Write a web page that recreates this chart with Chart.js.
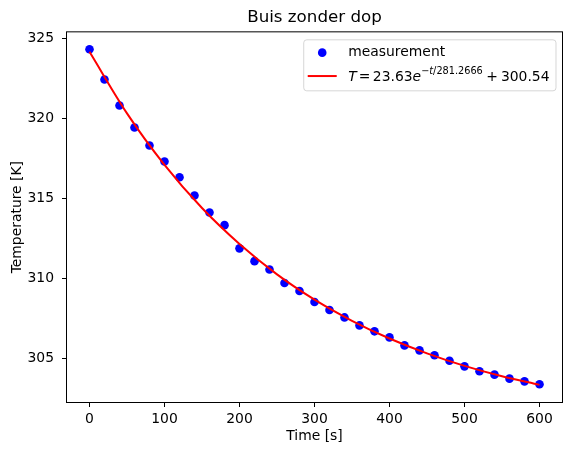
<!DOCTYPE html>
<html>
<head>
<meta charset="utf-8">
<script src="https://cdn.jsdelivr.net/npm/chart.js@4.4.1/dist/chart.umd.min.js"></script>
<style>
  html, body { margin: 0; padding: 0; background: #fff; }
  canvas { display: block; }
</style>
</head>
<body>
<canvas id="coolingChart" width="571" height="455"></canvas>
<script>
// Meetpunten
const times = [0, 20, 40, 60, 80, 100, 120, 140, 160, 180, 200, 220, 240, 260, 280, 300,
               320, 340, 360, 380, 400, 420, 440, 460, 480, 500, 520, 540, 560, 580, 600];
const measured = [324.33, 322.44, 320.81, 319.44, 318.31, 317.31, 316.33, 315.19, 314.12, 313.33,
                  311.88, 311.08, 310.56, 309.71, 309.21, 308.52, 308.02, 307.56, 307.06, 306.69,
                  306.31, 305.81, 305.50, 305.19, 304.85, 304.50, 304.19, 303.98, 303.73, 303.56, 303.38];

const fitTimes = [0, 50, 100, 150, 200, 250, 300, 350, 400, 450, 500, 550, 600];
const fitTemps = [324.17, 320.32, 317.10, 314.40, 312.15, 310.25, 308.67, 307.35, 306.24, 305.31, 304.53, 303.88, 303.34];

// Assen
const xTicks = [0, 100, 200, 300, 400, 500, 600];
const yTicks = [305, 310, 315, 320, 325];
const xLimits = [-30, 630];
const yLimits = [302.27, 325.39];

const FONT = 'DejaVu Sans';
const FS = 13.9;

Chart.defaults.font.family = FONT;
Chart.defaults.font.size = FS;
Chart.defaults.color = '#000';

// Kader rond het plotgebied (alle vier de zijden)
const spinesPlugin = {
    id: 'spines',
    afterDraw(chart) {
        const { ctx, chartArea: a } = chart;
        ctx.save();
        ctx.strokeStyle = '#000';
        ctx.lineWidth = 1;
        ctx.strokeRect(a.left - 0.5, a.top - 0.5, a.right - a.left + 1, a.bottom - a.top + 1);
        ctx.restore();
    }
};

// Legenda in matplotlib-stijl, met formule en superscript
const legendPlugin = {
    id: 'mplLegend',
    afterDraw(chart) {
        const { ctx, chartArea: a } = chart;
        const sup = FS * 0.7;
        const reg = FS + 'px "' + FONT + '"';
        const ita = 'oblique ' + FS + 'px "' + FONT + '"';
        const supReg = sup + 'px "' + FONT + '"';
        const supIta = 'oblique ' + sup + 'px "' + FONT + '"';

        // stukken van de formule
        const parts = [
            { t: 'T', f: ita, gap: 2 },
            { t: '=', f: reg, gap: 2.5 },
            { t: '23.63', f: reg, gap: 0 },
            { t: 'e', f: ita, gap: 0 },
            { t: '\u2212', f: supReg, gap: 0, up: true },
            { t: 't', f: supIta, gap: 0, up: true },
            { t: '/281.2666', f: supReg, gap: 3.5, up: true },
            { t: '+', f: reg, gap: 3 },
            { t: '300.54', f: reg, gap: 0 }
        ];
        ctx.save();
        let formulaW = 0;
        parts.forEach(p => { ctx.font = p.f; p.w = ctx.measureText(p.t).width; formulaW += p.w + p.gap; });

        const boxRight = a.right - 6.5;
        const boxTop = a.top + 7;
        const textX0 = 45;      // afstand linkerrand -> tekst
        const boxW = textX0 + formulaW + 6;
        const boxH = 51;
        const boxLeft = boxRight - boxW;

        ctx.globalAlpha = 0.8;
        ctx.fillStyle = '#fff';
        ctx.strokeStyle = '#cccccc';
        ctx.lineWidth = 1;
        ctx.beginPath();
        ctx.roundRect(boxLeft + 0.5, boxTop + 0.5, boxW, boxH, 3);
        ctx.fill();
        ctx.stroke();
        ctx.globalAlpha = 1;

        const row1 = boxTop + 13.3;
        const row2 = boxTop + 36.7;

        // symbool meting
        ctx.fillStyle = '#0000ff';
        ctx.beginPath();
        ctx.arc(boxLeft + 19, row1, 4.3, 0, Math.PI * 2);
        ctx.fill();
        // symbool fit
        ctx.strokeStyle = '#ff0000';
        ctx.lineWidth = 2;
        ctx.beginPath();
        ctx.moveTo(boxLeft + 4.5, row2);
        ctx.lineTo(boxLeft + 33.5, row2);
        ctx.stroke();

        ctx.fillStyle = '#000';
        ctx.textBaseline = 'middle';
        ctx.textAlign = 'left';
        ctx.font = reg;
        ctx.fillText('measurement', boxLeft + textX0, row1);

        let x = boxLeft + textX0;
        ctx.textBaseline = 'alphabetic';
        const base = row2 + 5;
        parts.forEach(p => {
            ctx.font = p.f;
            ctx.fillText(p.t, x, p.up ? base - 7.3 : base);
            x += p.w + p.gap;
        });
        ctx.restore();
    }
};

new Chart(document.getElementById('coolingChart'), {
    type: 'scatter',
    data: {
        datasets: [
            {
                type: 'line',
                label: 'fit',
                data: fitTimes.map((t, i) => ({ x: t, y: fitTemps[i] })),
                borderColor: '#ff0000',
                borderWidth: 2,
                pointRadius: 0,
                fill: false,
                cubicInterpolationMode: 'monotone',
                order: 0
            },
            {
                label: 'measurement',
                data: times.map((t, i) => ({ x: t, y: measured[i] })),
                backgroundColor: '#0000ff',
                borderColor: '#0000ff',
                borderWidth: 0,
                pointRadius: 4.3,
                order: 1
            }
        ]
    },
    options: {
        responsive: false,
        animation: false,
        devicePixelRatio: 1,
        layout: { padding: { left: 0, right: 9, top: 0, bottom: 0 } },
        plugins: {
            legend: { display: false },
            tooltip: { enabled: false },
            title: {
                display: true,
                fullSize: false,
                text: 'Buis zonder dop',
                color: '#000',
                font: { size: 16.7, weight: 'normal' },
                padding: { top: 7.5, bottom: 4.8 }
            }
        },
        scales: {
            x: {
                type: 'linear',
                min: xLimits[0],
                max: xLimits[1],
                afterBuildTicks: s => { s.ticks = xTicks.map(v => ({ value: v })); },
                afterFit: s => { s.height = 53; },
                grid: { drawOnChartArea: false, drawTicks: true, tickLength: 5, tickColor: '#000', tickWidth: 1 },
                border: { display: false },
                ticks: { padding: 4, color: '#000', maxRotation: 0 },
                title: { display: true, text: 'Time [s]', color: '#000', padding: { top: 0, bottom: 10 } }
            },
            y: {
                type: 'linear',
                min: yLimits[0],
                max: yLimits[1],
                afterBuildTicks: s => { s.ticks = yTicks.map(v => ({ value: v })); },
                afterFit: s => { s.width = 67; },
                grid: { drawOnChartArea: false, drawTicks: true, tickLength: 5, tickColor: '#000', tickWidth: 1 },
                border: { display: false },
                ticks: { padding: 8, color: '#000' },
                title: { display: true, text: 'Temperature [K]', color: '#000', padding: { top: 8.7, bottom: 0 } }
            }
        }
    },
    plugins: [spinesPlugin, legendPlugin]
});
</script>
</body>
</html>
